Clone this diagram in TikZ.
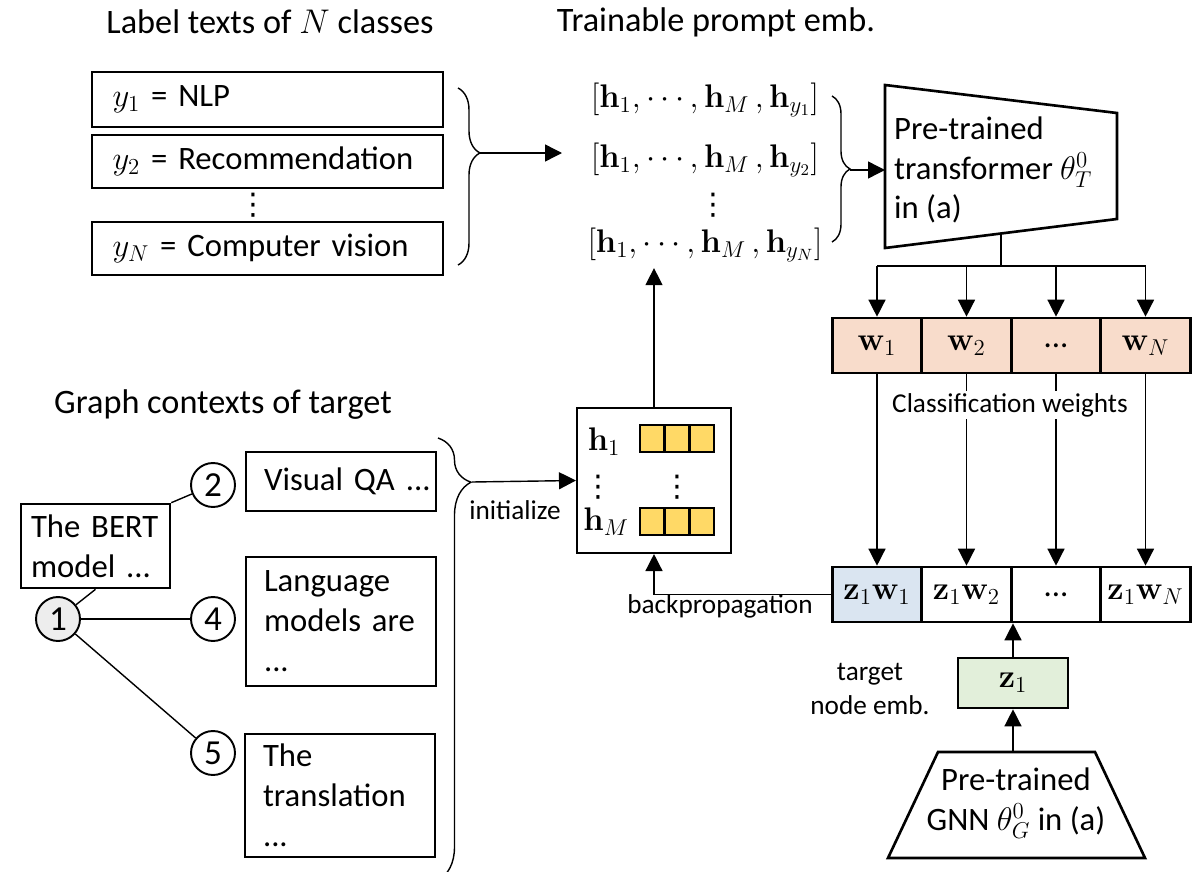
\RequirePackage{fix-cm}
\documentclass[tikz,border=0pt]{standalone}
\usepackage[no-math]{fontspec}
\setmainfont{Carlito}
\newfontfamily\symfont{DejaVu Sans}
\usetikzlibrary{arrows.meta,decorations.pathreplacing}

\definecolor{wfill}{HTML}{F8DCCB}
\definecolor{zfill}{HTML}{DAE5F1}
\definecolor{embfill}{HTML}{E2EFDA}
\definecolor{hfill}{HTML}{FFD966}
\definecolor{nodefill}{HTML}{EDEDED}

\tikzset{
  txt/.style={font=\fontsize{18.6}{22.7}\selectfont},
  ttl/.style={font=\fontsize{19.5}{23}\selectfont},
  small/.style={font=\fontsize{15.5}{19}\selectfont},
  dots/.style={font=\symfont\fontsize{17}{18}\selectfont, inner sep=0pt},
  thickbox/.style={draw, line width=1.5pt, inner sep=0pt},
  arr/.style={-{Triangle[length=0.34cm,width=0.34cm]}, line width=0.8pt},
  gnode/.style={draw, circle, line width=1.1pt, minimum size=0.88cm, inner sep=0pt, font=\fontsize{20}{24}\selectfont},
  cell/.style={thickbox, minimum width=1.79cm, minimum height=1.1cm, txt},
  hcell/.style={draw, line width=0.9pt, fill=hfill, minimum width=0.49cm, minimum height=0.54cm, inner sep=0pt},
  brc/.style={decorate, line width=0.8pt}
}

\begin{document}
\begin{tikzpicture}[x=0.02cm, y=-0.02cm]
    \useasboundingbox (0,0) rectangle (1204,872);

    % titles
    \node[ttl] (ttllab) at (270,22) {Label texts of $N$ classes};
    \node[ttl] (ttlprm) at (716,22) {Trainable prompt emb.};
    \node[ttl] (ttlgra) at (223,405) {Graph contexts of target};

    % label texts
    \node[thickbox, txt, minimum width=7.02cm, minimum height=1.1cm, text width=6.2cm, align=left] (lab1) at (267.5,99.5) {$y_1$ = NLP};
    \node[thickbox, txt, minimum width=7.02cm, minimum height=1.06cm, text width=6.2cm, align=left] (lab2) at (267.5,161.5) {$y_2$ = Recommendation};
    \node[dots] (labdots) at (253,205) {⋮};
    \node[thickbox, txt, minimum width=7.02cm, minimum height=1.06cm, text width=6.2cm, align=left] (labN) at (267.5,248.5) {$y_N$ = Computer vision};
    \draw[brc, decoration={brace, amplitude=0.44cm, aspect=0.367}] (458,88) -- (458,265);
    \coordinate (b1) at (480,153);
    \coordinate (b1end) at (562,153);
    \draw[arr] (b1) -- (b1end);

    % prompt embeddings
    \node[txt] (prm1) at (705,100) {$\bigl[\mathbf{h}_1, \cdots, \mathbf{h}_M\,, \mathbf{h}_{y_1}\bigr]$};
    \node[txt] (prm2) at (705,160) {$\bigl[\mathbf{h}_1, \cdots, \mathbf{h}_M\,, \mathbf{h}_{y_2}\bigr]$};
    \node[dots] (prmdots) at (713,205) {⋮};
    \node[txt] (prmN) at (705,245) {$\bigl[\mathbf{h}_1, \cdots, \mathbf{h}_M\,, \mathbf{h}_{y_N}\bigr]$};
    \draw[brc, decoration={brace, amplitude=0.36cm, aspect=0.5}] (832,96) -- (832,242);
    \coordinate (b2) at (850,170);

    % transformer
    \coordinate (tfa) at (885,85);
    \coordinate (tfb) at (1117,113);
    \coordinate (tfc) at (1117,219);
    \coordinate (tfd) at (885,248);
    \draw[line width=1.5pt] (tfa) -- (tfb) -- (tfc) -- (tfd) -- cycle;
    \node[txt, anchor=west, align=left] (tf) at (888,170) {Pre-trained\\transformer $\theta_T^0$\\in (a)};
    \coordinate (tfin) at (885,170);
    \draw[arr] (b2) -- (tfin);

    % classification weights
    \node[cell, fill=wfill] (w1) at (877,345.5) {$\mathbf{w}_1$};
    \node[cell, fill=wfill] (w2) at (966.5,345.5) {$\mathbf{w}_2$};
    \node[cell, fill=wfill] (w3) at (1056,345.5) {...};
    \node[cell, fill=wfill] (wN) at (1145.5,345.5) {$\mathbf{w}_N$};
    \coordinate (tfout) at (1001,233.5);
    \coordinate (split) at (1001,266);
    \draw[line width=0.8pt] (tfout) -- (split);
    \draw[line width=0.8pt] (w1 |- split) -- (wN |- split);
    \foreach \c in {w1,w2,w3,wN}
        \draw[arr] (\c |- split) -- (\c.north);

    % scores
    \node[cell, fill=zfill] (zc1) at (877,594.5) {$\mathbf{z}_1\mathbf{w}_1$};
    \node[cell] (zc2) at (966.5,594.5) {$\mathbf{z}_1\mathbf{w}_2$};
    \node[cell] (zc3) at (1056,594.5) {...};
    \node[cell] (zcN) at (1145.5,594.5) {$\mathbf{z}_1\mathbf{w}_N$};
    \foreach \a/\b in {w1/zc1,w2/zc2,w3/zc3,wN/zcN}
        \draw[arr] (\a.south) -- (\b.north);
    \node[small, fill=white, inner sep=1pt] (clsw) at (1010,405) {Classification weights};

    % target node embedding and GNN
    \node[thickbox, fill=embfill, minimum width=2.2cm, minimum height=1cm, txt] (zemb) at (1013,683) {$\mathbf{z}_1$};
    \node[small, align=center] (zlab) at (870,689) {target\\node emb.};
    \draw[arr] (zemb.north) -- (zemb.north |- zc2.south);
    \draw[line width=1.5pt] (888,858) -- (938,752) -- (1095,752) -- (1145,858) -- cycle;
    \node[txt, align=center] (gnn) at (1016,803) {Pre-trained\\GNN $\theta_G^0$ in (a)};
    \coordinate (gnntop) at (1013,752);
    \draw[arr] (gnntop) -- (zemb.south);

    % prompt tokens
    \node[draw, line width=1.2pt, minimum width=3.08cm, minimum height=2.9cm] (hbox) at (654,480.5) {};
    \node[txt, inner sep=0pt] (h1) at (604,442) {$\mathbf{h}_1$};
    \node[dots] (hdots) at (598,487) {⋮};
    \node[txt, inner sep=0pt] (hM) at (606,522) {$\mathbf{h}_M$};
    \node[hcell] (h1a) at (652,438.5) {};
    \node[hcell] (h1b) at (677,438.5) {};
    \node[hcell] (h1c) at (702,438.5) {};
    \node[dots] (celldots) at (677,487) {⋮};
    \node[hcell] (hMa) at (652,521.5) {};
    \node[hcell] (hMb) at (677,521.5) {};
    \node[hcell] (hMc) at (702,521.5) {};
    \draw[arr] (hbox.north) -- (hbox.north |- prmN.south);
    \draw[arr] (zc1.west) -| (hbox.south);
    \node[small] (bp) at (720,606) {backpropagation};

    % graph contexts
    \node[thickbox, txt, minimum width=2.98cm, minimum height=1.68cm, text width=2.58cm, align=left] (bert) at (95.5,546) {The BERT\\model ...};
    \node[gnode, fill=nodefill] (n1) at (58,619) {1};
    \node[gnode] (n2) at (213,485) {2};
    \node[gnode] (n4) at (213,619) {4};
    \node[gnode] (n5) at (213,753) {5};
    \draw[line width=0.8pt] (n1) -- (bert.south);
    \draw[line width=0.8pt] (bert.north east) -- (n2);
    \draw[line width=0.8pt] (n1) -- (n4);
    \draw[line width=0.8pt] (n1) -- (n5);
    \node[thickbox, txt, minimum width=3.8cm, minimum height=1.18cm, text width=3.08cm, align=left] (ctx2) at (341,481.5) {\mbox{Visual QA ...}};
    \node[thickbox, txt, minimum width=3.8cm, minimum height=2.58cm, text width=3.08cm, align=left] (ctx4) at (341,621.5) {Language\\models are\\...};
    \node[thickbox, txt, minimum width=3.8cm, minimum height=2.46cm, text width=3.08cm, align=left] (ctx5) at (340,795.5) {The\\translation\\...};
    \draw[brc, decoration={brace, amplitude=0.66cm, aspect=0.1}] (438,438) -- (438,880);
    \coordinate (b3) at (472,482);
    \draw[arr] (b3) -- (hbox.west);
    \node[small] (init) at (515,510) {initialize};
\end{tikzpicture}
\end{document}
